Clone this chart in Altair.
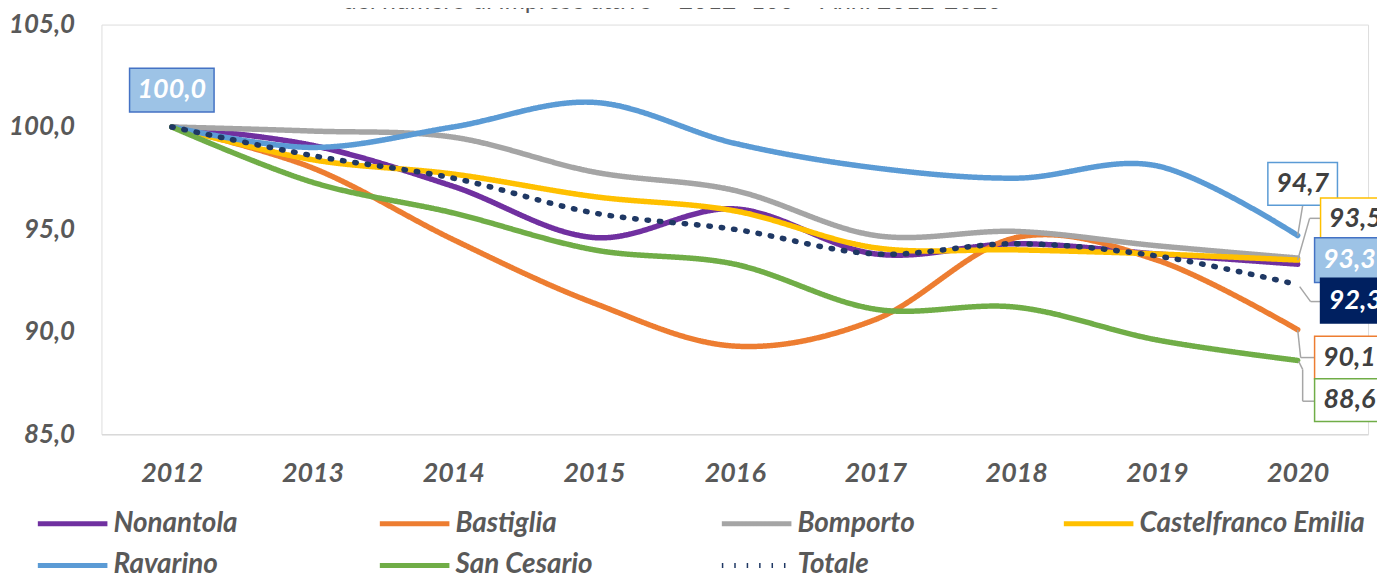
import altair as alt
import pandas as pd

# ---------------- data ----------------
years = ["2012", "2013", "2014", "2015", "2016", "2017", "2018", "2019", "2020"]
series_names = ["Nonantola", "Bastiglia", "Bomporto", "Castelfranco Emilia",
                "Ravarino", "San Cesario", "Totale"]
nonantola = [100.0, 99.1, 97.1, 94.6, 96.0, 93.8, 94.3, 93.8, 93.3]
bastiglia = [100.0, 98.0, 94.5, 91.4, 89.3, 90.6, 94.6, 93.5, 90.1]
bomporto = [100.0, 99.8, 99.5, 97.8, 96.9, 94.7, 94.9, 94.2, 93.6]
castelfranco = [100.0, 98.4, 97.7, 96.6, 95.9, 94.1, 94.0, 93.8, 93.5]
ravarino = [100.0, 99.0, 100.0, 101.2, 99.2, 98.0, 97.5, 98.1, 94.7]
san_cesario = [100.0, 97.3, 95.8, 94.0, 93.3, 91.1, 91.2, 89.6, 88.6]
totale = [100.0, 98.6, 97.5, 95.8, 95.0, 93.8, 94.3, 93.7, 92.3]
all_values = [nonantola, bastiglia, bomporto, castelfranco, ravarino, san_cesario, totale]

# data labels shown on the chart
label_years = ["2012", "2020", "2020", "2020", "2020", "2020", "2020"]
label_values = [100.0, 94.7, 93.5, 93.3, 92.3, 90.1, 88.6]
label_texts = ["100,0", "94,7", "93,5", "93,3", "92,3", "90,1", "88,6"]

title_text = "del numero di imprese attive – 2012=100 – Anni 2012-2020"

# ---------------- styles ----------------
colors = ["#7030a0", "#ed7d31", "#a5a5a5", "#ffc000", "#5b9bd5", "#70ad47", "#1f3864"]
dashes = [[1, 0]] * 6 + [[1.5, 11]]
FONT = "Lato"
GREY_TXT = "#595959"

# box styles: (dx, dy, width, height, fill, stroke, text colour)
box_styles = [
    (0, -37, 85, 44, "#9dc3e6", "#4472c4", "#ffffff"),
    (5, -52, 70, 43, "#ffffff", "#5b9bd5", "#404040"),
    (58, -41, 70, 43, "#ffffff", "#ffc000", "#404040"),
    (52, -4, 70, 45, "#9dc3e6", "#4472c4", "#ffffff"),
    (58, 16, 70, 45, "#002060", "#002060", "#ffffff"),
    (52, 28, 70, 43, "#ffffff", "#ed7d31", "#404040"),
    (52, 40, 70, 43, "#ffffff", "#70ad47", "#404040"),
]
# leader line segments (index of label, x0, y0, x1, y1) relative to the data point
leaders = [
    (1, 0, 0, 5, -30),
    (2, 0, 0, 12, -42), (2, 12, -42, 23, -42),
    (4, 2, 2, 13, 17), (4, 13, 17, 23, 17),
    (5, 0, 0, 3, 28), (5, 3, 28, 17, 28),
    (6, 1, 1, 5, 9), (6, 5, 9, 5, 41), (6, 5, 41, 17, 41),
]

rows = []
for name, vals in zip(series_names, all_values):
    for yr, v in zip(years, vals):
        rows.append({"anno": yr, "valore": v, "serie": name})
df = pd.DataFrame(rows)

lab_df = pd.DataFrame({"anno": label_years, "valore": label_values,
                       "testo": label_texts, "idx": list(range(len(label_texts)))})

W, H = 1274, 412

x_enc = alt.X("anno:O", scale=alt.Scale(type="point", padding=0.5, domain=years),
              axis=alt.Axis(title=None, labelAngle=0, ticks=False, grid=False,
                            domainColor="#d9d9d9", domainWidth=1.5,
                            labelFont=FONT, labelFontSize=27, labelFontWeight="bold",
                            labelFontStyle="italic", labelColor=GREY_TXT, labelPadding=27))
y_enc = alt.Y("valore:Q", scale=alt.Scale(domain=[85, 105], nice=False, zero=False),
              axis=alt.Axis(title=None, values=[85, 90, 95, 100, 105], domain=False,
                            ticks=False, grid=False,
                            labelExpr="replace(format(datum.value, '.1f'), '.', ',')",
                            labelFont=FONT, labelFontSize=26, labelFontWeight="bold",
                            labelFontStyle="italic", labelColor=GREY_TXT, labelPadding=27))

legend = alt.Legend(title=None, orient="none", legendX=-43, legendY=488, columns=4,
                    direction="horizontal",
                    symbolType="M-3.5,0L3.5,0", symbolSize=400, symbolStrokeWidth=5,
                    labelFont=FONT, labelFontSize=28, labelFontWeight="bold",
                    labelFontStyle="italic", labelColor=GREY_TXT, labelOffset=27,
                    labelLimit=500, gridAlign="all", columnPadding=31, rowPadding=14,
                    padding=0)

lines = alt.Chart(df).mark_line(interpolate="cardinal", strokeWidth=5.5,
                                strokeCap="round").encode(
    x=x_enc, y=y_enc,
    color=alt.Color("serie:N", scale=alt.Scale(domain=series_names, range=colors),
                    legend=legend),
    strokeDash=alt.StrokeDash("serie:N", scale=alt.Scale(domain=series_names, range=dashes),
                              legend=legend),
)

layers = [lines]

for (i, x0, y0, x1, y1) in leaders:
    seg = alt.Chart(lab_df).transform_filter(alt.datum.idx == i).mark_rule(
        color="#a6a6a6", strokeWidth=1.5,
        xOffset=x0, yOffset=y0, x2Offset=x1, y2Offset=y1).encode(
        x="anno:O", x2="anno", y="valore:Q", y2="valore")
    layers.append(seg)

for i, (dx, dy, w, h, fill, stroke, tcol) in enumerate(box_styles):
    base = alt.Chart(lab_df).transform_filter(alt.datum.idx == i)
    box = base.mark_rect(width=w, height=h, xOffset=dx, yOffset=dy, fill=fill,
                         stroke=stroke, strokeWidth=1.5).encode(x="anno:O", y="valore:Q")
    txt = base.mark_text(dx=dx, dy=dy, align="center", baseline="middle", font=FONT,
                         fontSize=27, fontWeight="bold", fontStyle="italic",
                         color=tcol).encode(x="anno:O", y="valore:Q", text="testo:N")
    layers += [box, txt]

title = alt.Chart(pd.DataFrame({"t": [title_text]})).mark_text(
    align="center", baseline="alphabetic", font=FONT, fontSize=25, color=GREY_TXT).encode(
    text="t:N", x=alt.value(574), y=alt.value(-16))
layers.append(title)

chart = alt.layer(*layers).properties(
    width=W, height=H,
    autosize=alt.AutoSizeParams(type="none"),
    padding={"left": 94, "top": 15, "right": 9, "bottom": 142},
).configure_view(stroke=None).configure(background="white")

chart.save("out.html", embed_options={"renderer": "svg", "actions": False})
